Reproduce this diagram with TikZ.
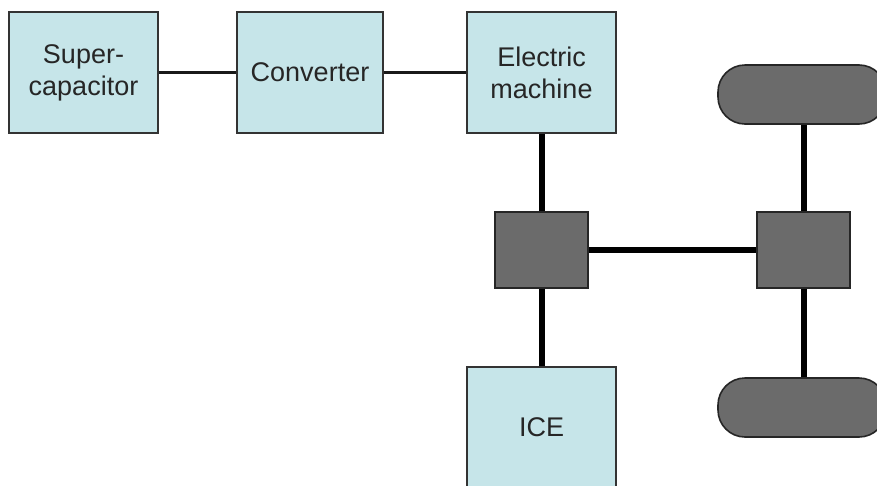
\documentclass[tikz,border=0pt]{standalone}
\usepackage{fontspec}
\setmainfont{Liberation Sans}
\begin{document}
\begin{tikzpicture}[x=1pt,y=-1pt,
  blockbox/.style={draw=black!80, line width=1.6pt, fill=boxfill, minimum width=149pt, minimum height=121pt, inner sep=0pt, align=center, font=\fontsize{27}{32}\selectfont, text=black!85},
  gearbox/.style={draw=black!85, line width=1.6pt, fill=gearfill, minimum width=93pt, minimum height=76pt, inner sep=0pt},
  wheelbox/.style={draw=black!85, line width=1.6pt, fill=gearfill, minimum width=168pt, minimum height=59pt, inner sep=0pt, rounded corners=27pt},
  thinlink/.style={draw=black!90, line width=2.4pt},
  shaft/.style={draw=black, line width=6pt}]
\definecolor{boxfill}{HTML}{C6E5E9}
\definecolor{gearfill}{HTML}{6B6B6B}
\useasboundingbox (0,0) rectangle (877,485);
\clip (0,0) rectangle (877,485);
\fill[white] (0,0) rectangle (877,485);
\node[blockbox] (sc) at (83.5,72.5) {Super-\\capacitor};
\node[blockbox, minimum width=146pt] (conv) at (310,72.5) {Converter};
\node[blockbox] (em) at (541.5,72.5) {Electric\\machine};
\node[blockbox, minimum height=120pt] (ice) at (541.5,427) {ICE};
\node[gearbox] (gl) at (541.5,250) {};
\node[gearbox] (gr) at (803.5,250) {};
\node[wheelbox] (wt) at (802,94.5) {};
\node[wheelbox] (wb) at (802,407.5) {};
\draw[thinlink] (sc.east) -- (conv.west);
\draw[thinlink] (conv.east) -- (em.west);
\draw[shaft] (em.south) -- (gl.north);
\draw[shaft] (gl.south) -- (ice.north);
\draw[shaft] (gl.east) -- (gr.west);
\draw[shaft] (wt.south -| gr.north) -- (gr.north);
\draw[shaft] (gr.south) -- (wb.north -| gr.south);
\end{tikzpicture}
\end{document}
